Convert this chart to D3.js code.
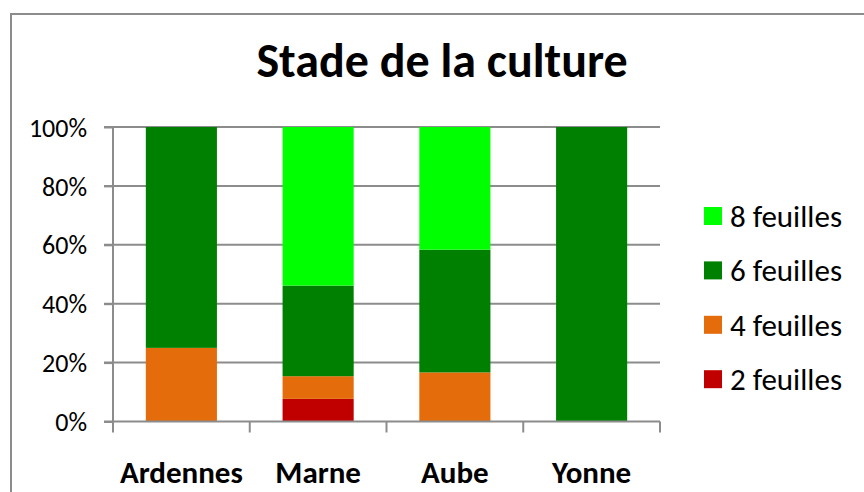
<!DOCTYPE html>
<html>
<head>
<meta charset="utf-8">
<script src="https://cdn.jsdelivr.net/npm/d3@7"></script>
<style>
  body { margin: 0; background: #fff; }
  svg text { font-family: Carlito, "Open Sans", "Noto Sans", sans-serif; fill: #000; }
</style>
</head>
<body>
<div id="chart"></div>
<script>
// data (shares per stage, in %)
var regions = ["Ardennes", "Marne", "Aube", "Yonne"];
var stages = ["2 feuilles", "4 feuilles", "6 feuilles", "8 feuilles"];
var feuilles2 = [0, 7.69, 0, 0];
var feuilles4 = [25, 7.69, 16.67, 0];
var feuilles6 = [75, 30.77, 41.67, 100];
var feuilles8 = [0, 53.85, 41.66, 0];
var yTicks = [0, 20, 40, 60, 80, 100];
var stageColors = ["#c00000", "#e46c0a", "#008000", "#00ff00"];

var svgWidth = 864, svgHeight = 492;
var margin = { top: 127, left: 113, right: 204, bottom: 70 };
var chartWidth = svgWidth - margin.left - margin.right;
var chartHeight = svgHeight - margin.top - margin.bottom - 0.5;

var svg = d3.select("#chart").append("svg")
    .attr("width", svgWidth)
    .attr("height", svgHeight);

// outer frame (runs off the right and bottom edge)
svg.append("rect")
    .attr("x", 11).attr("y", 14)
    .attr("width", 900).attr("height", 520)
    .attr("fill", "none")
    .attr("stroke", "#8c8c8c")
    .attr("stroke-width", 2);

svg.append("text")
    .attr("x", 442).attr("y", 77)
    .attr("text-anchor", "middle")
    .attr("font-size", 48)
    .attr("font-weight", "bold")
    .text("Stade de la culture");

var g = svg.append("g")
    .attr("transform", "translate(" + margin.left + "," + margin.top + ")");

var rows = regions.map(function (r, i) {
  return { region: r, "2 feuilles": feuilles2[i], "4 feuilles": feuilles4[i], "6 feuilles": feuilles6[i], "8 feuilles": feuilles8[i] };
});
var series = d3.stack().keys(stages)(rows);

var x = d3.scaleBand().domain(regions).range([0, chartWidth]).paddingInner(0.48).paddingOuter(0.24);
var y = d3.scaleLinear().domain([0, 100]).range([chartHeight, 0]);
var color = d3.scaleOrdinal().domain(stages).range(stageColors);

// gridlines
g.append("g")
    .selectAll("line")
    .data(yTicks.filter(function (d) { return d > 0; }))
    .enter().append("line")
    .attr("x1", -9).attr("x2", chartWidth)
    .attr("y1", function (d) { return y(d); })
    .attr("y2", function (d) { return y(d); })
    .attr("stroke", "#8c8c8c")
    .attr("stroke-width", 2);

// bars
g.selectAll(".layer")
    .data(series)
    .enter().append("g")
    .attr("class", "layer")
    .attr("fill", function (d) { return color(d.key); })
    .selectAll("rect")
    .data(function (d) { return d; })
    .enter().append("rect")
    .attr("x", function (d) { return x(d.data.region); })
    .attr("y", function (d) { return y(d[1]); })
    .attr("width", x.bandwidth())
    .attr("height", function (d) { return y(d[0]) - y(d[1]); });

// y axis
var leftAxis = d3.axisLeft(y).tickValues(yTicks).tickSize(9).tickPadding(17)
    .tickFormat(function (d) { return d + "%"; });
var ya = g.append("g").call(leftAxis);
ya.select(".domain").attr("stroke", "#8c8c8c").attr("stroke-width", 2).attr("d", "M0,0V" + (chartHeight + 10));
ya.selectAll(".tick line").attr("stroke", "#8c8c8c").attr("stroke-width", 2);
ya.selectAll(".tick text").attr("font-size", 26).attr("font-family", null).attr("dy", "0.35em");

// x axis
var xa = g.append("g").attr("transform", "translate(0," + chartHeight + ")");
xa.append("line")
    .attr("x1", -9).attr("x2", chartWidth)
    .attr("stroke", "#8c8c8c").attr("stroke-width", 2);
xa.selectAll(".sep")
    .data(d3.range(regions.length + 1))
    .enter().append("line")
    .attr("x1", function (i) { return i * x.step(); })
    .attr("x2", function (i) { return i * x.step(); })
    .attr("y1", 0).attr("y2", 11)
    .attr("stroke", "#8c8c8c").attr("stroke-width", 2);
xa.selectAll(".lab")
    .data(regions)
    .enter().append("text")
    .attr("x", function (d) { return x(d) + x.bandwidth() / 2; })
    .attr("y", 61)
    .attr("text-anchor", "middle")
    .attr("font-size", 31)
    .attr("font-weight", "bold")
    .text(function (d) { return d; });

// legend (top to bottom: 8, 6, 4, 2 feuilles)
var legend = svg.append("g").attr("transform", "translate(704,207)");
var legendItems = stages.slice().reverse();
var item = legend.selectAll(".item")
    .data(legendItems)
    .enter().append("g")
    .attr("transform", function (d, i) { return "translate(0," + (i * 54.4) + ")"; });
item.append("rect")
    .attr("width", 18).attr("height", 18)
    .attr("fill", function (d) { return color(d); });
item.append("text")
    .attr("x", 26).attr("y", 9)
    .attr("dy", "0.35em")
    .attr("font-size", 31)
    .text(function (d) { return d; });
</script>
</body>
</html>
